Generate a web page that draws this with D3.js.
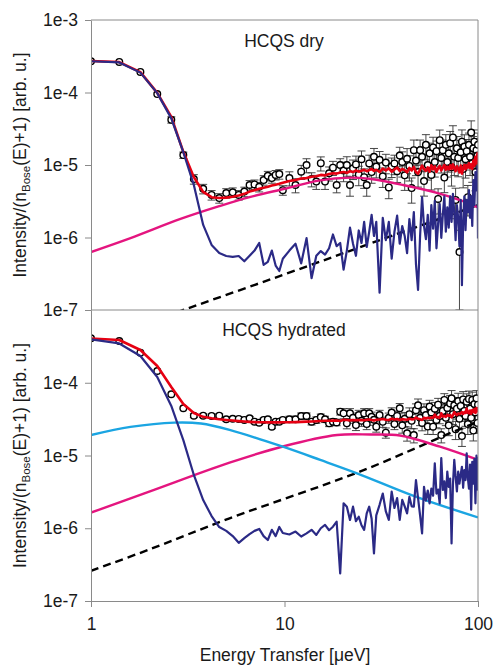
<!DOCTYPE html>
<html><head><meta charset="utf-8">
<script src="https://cdn.jsdelivr.net/npm/d3@7"></script>
<style>
body{margin:0;background:#fff;}
svg text{font-family:"Liberation Sans",Arial,sans-serif;}
</style></head><body>
<svg id="chart" width="493" height="665"></svg>
<script>
// ---------- energy grid (µeV) ----------
const energy = [
 1.0,1.4,1.8,2.2,2.6,3.0,3.4,3.8,4.2,4.6,5.0,5.4,5.8,6.2,6.6,7.0,7.4,7.8,8.2,8.6,9.0,9.4,9.8,
 10.6,11.4,12.2,13.0,13.8,14.6,15.4,16.2,17.0,17.8,18.6,19.4,20.2,21.0,21.8,22.6,23.4,24.2,25.0,25.8,26.6,27.4,28.2,29.0,29.8,
 31.0,32.2,33.4,34.6,35.8,37.0,38.2,39.4,40.6,41.8,
 43.0,44.2,45.4,46.6,47.8,49.0,50.2,51.4,52.6,53.8,
 55.0,56.2,57.4,58.6,59.8,61.0,62.2,63.4,64.6,65.8,
 67.0,68.2,69.4,70.6,71.8,73.0,74.2,75.4,76.6,77.8,
 79.0,80.2,81.4,82.6,83.8,85.0,86.2,87.4,88.6,89.8,
 91.0,92.2,93.4,94.6,95.8,97.0,98.2,99.4,100
];

// ---------- HCQS dry ----------
const dryData = [
 2.7e-4,2.64e-4,1.92e-4,9.5e-5,4.2e-5,1.37e-5,6.4e-6,4.7e-6,3.86e-6,3.5e-6,4.1e-6,4.2e-6,3.86e-6,4.3e-6,5.3e-6,5.4e-6,5.0e-6,6.2e-6,7.1e-6,6.6e-6,7.3e-6,7.5e-6,4.5e-6,
 6.6e-6,5.3e-6,8.1e-6,1.0e-5,6.4e-6,5.9e-6,1.06e-5,5.9e-6,7.7e-6,9.2e-6,5.3e-6,1.0e-5,8.4e-6,1.0e-5,5.3e-6,9.0e-6,1.02e-5,7.4e-6,1.2e-5,6.8e-6,5.3e-6,1.05e-5,8.0e-6,1.3e-5,9.5e-6,
 1.18e-5,7.0e-6,1.08e-5,4.9e-6,9.6e-6,1.05e-5,8.2e-6,1.35e-5,1.1e-5,7.2e-6,
 1.22e-5,9.7e-6,4.8e-6,1.6e-5,1.15e-5,8.0e-6,1.6e-5,1.3e-5,6.0e-6,1.9e-5,
 1.0e-5,1.45e-5,7.3e-6,1.75e-5,1.1e-5,1.55e-5,3.4e-6,2.2e-5,1.25e-5,1.6e-5,
 6.7e-6,1.9e-5,1.1e-5,1.45e-5,2.0e-5,9.3e-6,2.4e-5,1.3e-5,3.3e-6,1.7e-5,
 1.25e-5,6.3e-7,1.5e-5,2.1e-5,8.8e-6,1.8e-5,1.2e-5,1.55e-5,3.6e-6,1.9e-5,
 1.3e-5,2.8e-5,1.05e-5,1.7e-5,2.1e-5,8.0e-6,1.6e-5,1.35e-5,1.9e-5
];
const dryRes = [
 2.7e-4,2.6e-4,1.88e-4,9.8e-5,4.4e-5,1.5e-5,5.3e-6,1.49e-6,7.9e-7,6.1e-7,5.56e-7,5.4e-7,5.56e-7,4.7e-7,5.6e-7,6.6e-7,8.4e-7,4.2e-7,4.6e-7,6.6e-7,4.1e-7,3.45e-7,5.1e-7,
 6.6e-7,8.2e-7,4.4e-7,9.8e-7,2.75e-7,5.6e-7,6.5e-7,5.8e-7,7.1e-7,1.1e-6,7.6e-7,8.4e-7,3.6e-7,6.6e-7,1.37e-6,8.2e-7,5.6e-7,1.25e-6,8.4e-7,1.64e-6,7.4e-7,1.2e-6,2.05e-6,1.05e-6,1.64e-6,
 1.73e-7,1.87e-6,9.2e-7,1.64e-6,5.1e-7,1.2e-6,2.0e-6,8.2e-7,1.44e-6,1.05e-6,
 6.1e-7,1.8e-6,9.2e-7,2.24e-6,4.3e-7,1.89e-7,1.05e-6,3.6e-6,1.44e-6,9.5e-7,
 2.05e-6,6.6e-7,2.8e-6,1.32e-6,3.2e-6,7.1e-7,1.55e-6,2.9e-6,9.9e-7,2.05e-6,
 3.7e-6,1.2e-6,2.6e-6,1.37e-6,3.7e-6,1.64e-6,4.0e-6,2.24e-6,9.2e-7,2.8e-6,
 1.87e-6,7.6e-7,3.3e-6,2.2e-7,1.64e-6,3.7e-6,1.26e-6,3.3e-6,2.24e-6,4.5e-6,
 1.87e-6,3.7e-6,1.44e-6,6.2e-6,2.8e-6,8.0e-6,4.5e-6,9.5e-6,9.7e-7
];
const dryFit = [
 2.72e-4,2.63e-4,1.91e-4,9.9e-5,4.6e-5,1.52e-5,6.8e-6,4.25e-6,3.6e-6,3.5e-6,3.55e-6,3.65e-6,3.8e-6,4.0e-6,4.3e-6,4.5e-6,4.7e-6,4.85e-6,5.0e-6,5.2e-6,5.35e-6,5.5e-6,5.7e-6,
 6.0e-6,6.2e-6,6.5e-6,6.6e-6,6.9e-6,7.0e-6,7.3e-6,7.2e-6,7.5e-6,7.7e-6,7.6e-6,7.9e-6,8.0e-6,7.8e-6,8.2e-6,8.0e-6,8.4e-6,8.1e-6,8.3e-6,8.6e-6,8.2e-6,8.5e-6,8.8e-6,8.3e-6,8.6e-6,
 8.0e-6,8.9e-6,8.4e-6,9.0e-6,8.1e-6,8.7e-6,9.2e-6,8.3e-6,8.8e-6,8.5e-6,
 7.9e-6,9.1e-6,8.4e-6,9.4e-6,8.0e-6,7.6e-6,8.6e-6,9.8e-6,8.8e-6,8.3e-6,
 9.3e-6,8.1e-6,9.9e-6,8.7e-6,9.6e-6,8.0e-6,9.0e-6,9.7e-6,8.4e-6,9.2e-6,
 1.0e-5,8.6e-6,9.5e-6,8.7e-6,9.9e-6,8.8e-6,1.02e-5,9.1e-6,8.2e-6,9.6e-6,
 8.9e-6,7.9e-6,9.8e-6,7.6e-6,9.0e-6,1.0e-5,8.7e-6,9.9e-6,9.2e-6,1.06e-5,
 9.1e-6,1.02e-5,8.8e-6,1.15e-5,9.7e-6,1.3e-5,1.05e-5,1.45e-5,1.1e-5
];
const dryLinE = [1, 3, 10, 30, 100];
const dryLinV = [3.5e-8, 1.0e-7, 3.1e-7, 8.9e-7, 2.8e-6];
const dryModE = [1, 1.6, 2.9, 4.6, 6.6, 10, 15, 22, 28, 41, 62, 80, 100];
const dryModV = [6.3e-7, 9.8e-7, 1.8e-6, 2.7e-6, 3.6e-6, 4.7e-6, 6.1e-6, 6.7e-6, 6.4e-6, 5.3e-6, 4.1e-6, 3.3e-6, 2.6e-6];
const dryErrBands = [[2.2, 0.02], [3.0, 0.1], [10, 0.15], [20, 0.22], [40, 0.3], [70, 0.38], [100, 0.45]];
const dryErrOverride = [[80.2, 1.0]];

// ---------- HCQS hydrated ----------
const hydData = [
 4.08e-4,3.75e-4,2.59e-4,1.45e-4,6.95e-5,4.46e-5,3.53e-5,3.53e-5,3.5e-5,3.53e-5,3.15e-5,3.2e-5,3.18e-5,3.08e-5,3.25e-5,2.92e-5,2.83e-5,3.08e-5,3.15e-5,2.49e-5,2.92e-5,2.92e-5,3.08e-5,
 3.15e-5,3.15e-5,3.49e-5,3.49e-5,2.92e-5,3.08e-5,3.37e-5,3.15e-5,2.77e-5,2.92e-5,2.85e-5,4.0e-5,3.8e-5,2.77e-5,3.8e-5,3.3e-5,2.62e-5,3.6e-5,3.0e-5,3.8e-5,2.7e-5,3.8e-5,3.4e-5,3.1e-5,2.49e-5,
 3.6e-5,2.9e-5,2.06e-5,3.3e-5,3.9e-5,2.7e-5,3.5e-5,4.46e-5,2.6e-5,3.2e-5,
 2.02e-5,3.7e-5,3.0e-5,1.91e-5,4.2e-5,4.9e-5,3.3e-5,2.8e-5,4.2e-5,3.6e-5,
 2.5e-5,4.7e-5,3.9e-5,2.49e-5,4.4e-5,3.08e-5,5.0e-5,3.5e-5,1.91e-5,4.1e-5,
 5.8e-5,3.3e-5,4.5e-5,2.6e-5,5.2e-5,6.1e-5,3.7e-5,4.9e-5,2.3e-5,4.4e-5,
 5.6e-5,3.2e-5,4.8e-5,1.85e-5,5.9e-5,4.1e-5,3.5e-5,5.5e-5,2.7e-5,6.0e-5,
 4.4e-5,3.3e-5,5.8e-5,2.2e-5,5.1e-5,3.9e-5,6.1e-5,2.8e-5,5.0e-5
];
const hydRes = [
 3.94e-4,3.47e-4,2.33e-4,1.2e-4,4.8e-5,1.63e-5,5.4e-6,2.44e-6,1.47e-6,1.04e-6,9.2e-7,7.8e-7,6.3e-7,7.3e-7,8.3e-7,9.2e-7,9.8e-7,7.8e-7,6.9e-7,9.5e-7,7.8e-7,1.04e-6,8.6e-7,
 8.2e-7,9.0e-7,7.7e-7,8.5e-7,9.5e-7,8.1e-7,1.0e-6,1.11e-6,9.4e-7,1.05e-6,1.23e-6,2.4e-7,2.2e-6,1.98e-6,1.3e-6,1.98e-6,1.25e-6,1.44e-6,1.1e-6,9.5e-7,1.6e-6,1.98e-6,1.35e-6,4.5e-7,1.5e-6,
 2.1e-6,3.0e-6,1.7e-6,1.3e-6,3.18e-6,1.9e-6,2.6e-6,1.3e-6,2.45e-6,2.0e-6,
 1.6e-6,2.7e-6,2.0e-6,1.98e-6,4.6e-6,2.6e-6,1.5e-6,8.5e-7,3.7e-6,2.4e-6,
 3.3e-6,2.2e-6,3.5e-6,2.8e-6,7.8e-6,3.0e-6,3.4e-6,2.2e-6,9.2e-6,3.36e-6,
 4.4e-6,2.6e-6,6.0e-6,3.7e-6,4.8e-6,6.2e-7,3.9e-6,8.7e-6,5.2e-6,3.2e-6,
 6.0e-6,4.1e-6,5.5e-6,7.0e-6,3.6e-6,6.3e-6,4.6e-6,1.07e-5,5.0e-6,3.5e-6,
 7.5e-6,1.8e-6,8.2e-6,4.1e-6,9.0e-6,2.2e-6,1.0e-5,3.4e-6,9.6e-6
];
const hydFit = [
 4.06e-4,3.87e-4,2.82e-4,1.7e-4,8.75e-5,5.1e-5,3.84e-5,3.4e-5,3.25e-5,3.15e-5,3.08e-5,3.02e-5,2.97e-5,2.93e-5,2.9e-5,2.88e-5,2.87e-5,2.86e-5,2.85e-5,2.85e-5,2.85e-5,2.85e-5,2.86e-5,
 2.87e-5,2.88e-5,2.9e-5,2.92e-5,2.94e-5,2.96e-5,2.98e-5,3.0e-5,3.01e-5,3.02e-5,3.03e-5,2.98e-5,3.1e-5,3.08e-5,3.04e-5,3.08e-5,3.05e-5,3.07e-5,3.06e-5,3.05e-5,3.1e-5,3.12e-5,3.08e-5,3.02e-5,3.1e-5,
 3.12e-5,3.18e-5,3.1e-5,3.08e-5,3.2e-5,3.12e-5,3.17e-5,3.08e-5,3.16e-5,3.13e-5,
 3.1e-5,3.2e-5,3.14e-5,3.15e-5,3.32e-5,3.2e-5,3.14e-5,3.08e-5,3.3e-5,3.22e-5,
 3.3e-5,3.24e-5,3.34e-5,3.3e-5,3.65e-5,3.34e-5,3.38e-5,3.3e-5,3.8e-5,3.42e-5,
 3.5e-5,3.4e-5,3.62e-5,3.5e-5,3.6e-5,3.35e-5,3.58e-5,3.95e-5,3.72e-5,3.6e-5,
 3.78e-5,3.7e-5,3.82e-5,3.95e-5,3.72e-5,3.95e-5,3.85e-5,4.4e-5,3.9e-5,3.8e-5,
 4.15e-5,3.75e-5,4.2e-5,3.95e-5,4.35e-5,3.85e-5,4.5e-5,4.05e-5,4.4e-5
];
const hydLinE = [1, 2, 5.2, 24.5, 74, 100];
const hydLinV = [2.6e-7, 5.1e-7, 1.37e-6, 6.0e-6, 2.1e-5, 2.9e-5];
const hydModE = [1, 2, 5.2, 9.8, 18.7, 27.7, 39.5, 63.6, 100];
const hydModV = [1.64e-6, 3.18e-6, 7.96e-6, 1.33e-5, 1.91e-5, 1.94e-5, 1.88e-5, 1.32e-5, 8.7e-6];
const hydQE = [1, 1.6, 2.7, 3.7, 5.2, 9.8, 15.3, 23.7, 48, 100];
const hydQV = [1.91e-5, 2.47e-5, 2.83e-5, 2.75e-5, 2.25e-5, 1.32e-5, 8.7e-6, 5.7e-6, 2.7e-6, 1.41e-6];
const hydErrBands = [[3, 0.02], [10, 0.06], [20, 0.1], [40, 0.16], [70, 0.22], [100, 0.28]];
const hydErrOverride = [];

const yTicks = [1e-3, 1e-4, 1e-5, 1e-6, 1e-7];
const xTicks = [1, 10, 100];

// ---------- drawing ----------
const FONT = 17.5;
const L = 91, R = 478, T = 20, MID = 310, B = 601;
const C = {red:"#e60012", navy:"#2b2a86", magenta:"#e4157f", cyan:"#1ba5e2", axis:"#8a8a8a", text:"#1a1a1a"};
const svg = d3.select("#chart");
const x = d3.scaleLog().domain([1, 100]).range([L, R]);

const panels = [
  {top:T, bottom:MID, title:"HCQS dry", titleY:47, data:dryData, res:dryRes, fit:dryFit,
   bands:dryErrBands, override:dryErrOverride,
   curves:[{e:dryLinE, v:dryLinV, color:"#000", dash:"8,5"}, {e:dryModE, v:dryModV, color:C.magenta}]},
  {top:MID, bottom:B, title:"HCQS hydrated", titleY:336, data:hydData, res:hydRes, fit:hydFit,
   bands:hydErrBands, override:hydErrOverride,
   curves:[{e:hydLinE, v:hydLinV, color:"#000", dash:"8,5"}, {e:hydModE, v:hydModV, color:C.magenta}, {e:hydQE, v:hydQV, color:C.cyan}]}
];

function relErr(e, p) {
  for (const [ee, f] of p.override) if (Math.abs(ee - e) < 1e-6) return f;
  for (const [maxE, f] of p.bands) if (e <= maxE + 1e-9) return f;
  return p.bands[p.bands.length - 1][1];
}

panels.forEach((p, i) => {
  const y = d3.scaleLog().domain([1e-7, 1e-3]).range([p.bottom, p.top]);
  const clipId = "clip" + i;
  svg.append("clipPath").attr("id", clipId).append("rect")
    .attr("x", L).attr("y", p.top).attr("width", R - L).attr("height", p.bottom - p.top);
  const g = svg.append("g").attr("clip-path", `url(#${clipId})`);

  const pts = energy.map((e, k) => ({e, v:p.data[k], s:relErr(e, p)})).filter(d => d.v != null);
  // error bars
  const eb = g.append("g").attr("stroke", "#333").attr("stroke-width", 0.9);
  pts.forEach(d => {
    const hi = y(d.v * (1 + d.s));
    const loV = d.v * (1 - d.s);
    const lo = loV > 1e-7 ? y(loV) : p.bottom;
    const cx = x(d.e);
    eb.append("line").attr("x1", cx).attr("x2", cx).attr("y1", hi).attr("y2", lo);
    if (d.s >= 0.05) {
      eb.append("line").attr("x1", cx - 4).attr("x2", cx + 4).attr("y1", hi).attr("y2", hi);
      eb.append("line").attr("x1", cx - 4).attr("x2", cx + 4).attr("y1", lo).attr("y2", lo);
    }
  });
  // circles
  g.append("g").selectAll("circle").data(pts).join("circle")
    .attr("cx", d => x(d.e)).attr("cy", d => y(d.v)).attr("r", 3.3)
    .attr("fill", "#fff").attr("stroke", "#000").attr("stroke-width", 1.4);

  // smooth model curves
  const smooth = d3.line().x(d => x(d[0])).y(d => y(d[1])).curve(d3.curveCatmullRom.alpha(0.5));
  p.curves.forEach(c => {
    g.append("path").attr("d", smooth(d3.zip(c.e, c.v)))
      .attr("fill", "none").attr("stroke", c.color).attr("stroke-width", 2.4)
      .attr("stroke-dasharray", c.dash || null);
  });
  const straight = d3.line().x(d => x(d[0])).y(d => y(d[1]));
  g.append("path").attr("d", straight(d3.zip(energy, p.fit).filter(d => d[1] != null)))
    .attr("fill", "none").attr("stroke", C.red).attr("stroke-width", 2.6).attr("stroke-linejoin", "round");
  g.append("path").attr("d", straight(d3.zip(energy, p.res).filter(d => d[1] != null)))
    .attr("fill", "none").attr("stroke", C.navy).attr("stroke-width", 2.2).attr("stroke-linejoin", "round");

  // frame
  svg.append("line").attr("x1", L).attr("x2", R).attr("y1", p.top).attr("y2", p.top).attr("stroke", C.axis);
  svg.append("line").attr("x1", R).attr("x2", R).attr("y1", p.top).attr("y2", p.bottom).attr("stroke", C.axis);

  // y axis
  const ya = svg.append("g").attr("transform", `translate(${L},0)`)
    .call(d3.axisLeft(y).tickValues(i === 0 ? yTicks : yTicks.slice(1)).tickSize(6).tickSizeOuter(0).tickPadding(7)
      .tickFormat(d => "1e" + Math.round(Math.log10(d))));
  ya.select(".domain").attr("stroke", C.axis);
  ya.selectAll(".tick line").attr("stroke", C.axis);
  ya.selectAll("text").attr("font-size", FONT).attr("fill", C.text).attr("font-family", "Liberation Sans, Arial, sans-serif");

  // title
  svg.append("text").attr("x", 284).attr("y", p.titleY).attr("text-anchor", "middle")
    .attr("font-size", FONT).attr("fill", C.text).text(p.title);

  // y label
  const cy = (p.top + p.bottom) / 2;
  const lab = svg.append("text").attr("transform", `translate(26,${cy}) rotate(-90)`)
    .attr("text-anchor", "middle").attr("font-size", FONT).attr("fill", C.text);
  lab.append("tspan").text("Intensity/(n");
  lab.append("tspan").attr("font-size", 11.5).attr("dy", 4).text("Bose");
  lab.append("tspan").attr("dy", -4).text("(E)+1) [arb. u.]");
});

// x axis
const xa = svg.append("g").attr("transform", `translate(0,${B})`)
  .call(d3.axisBottom(x).tickValues(xTicks).tickSize(6).tickSizeOuter(0).tickPadding(11).tickFormat(d3.format("d")));
xa.select(".domain").attr("stroke", C.axis);
xa.selectAll(".tick line").attr("stroke", C.axis);
xa.selectAll("text").attr("font-size", FONT).attr("fill", C.text).attr("font-family", "Liberation Sans, Arial, sans-serif");

svg.append("text").attr("x", 285).attr("y", 661).attr("text-anchor", "middle")
  .attr("font-size", FONT).attr("fill", C.text).text("Energy Transfer [μeV]");
</script>
</body></html>
